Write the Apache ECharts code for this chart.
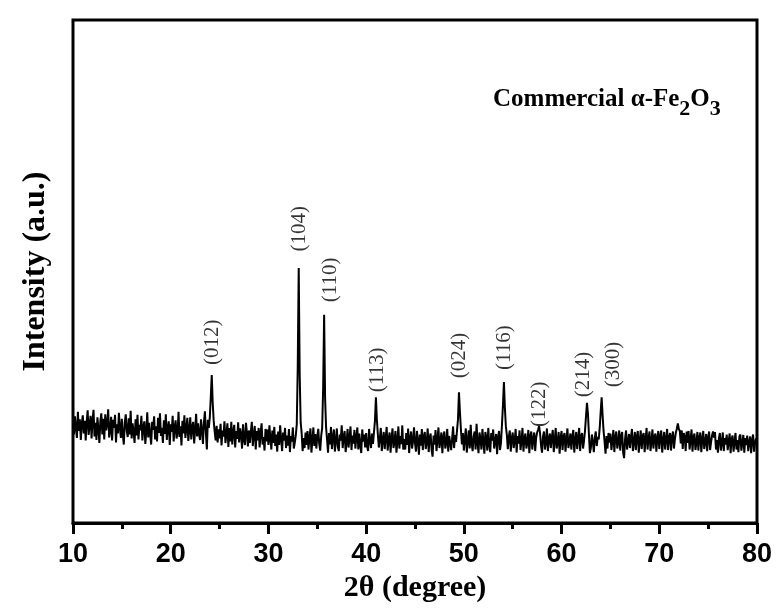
<!DOCTYPE html>
<html>
<head>
<meta charset="utf-8">
<script src="https://cdn.jsdelivr.net/npm/echarts@6/dist/echarts.min.js"></script>
<style>
  html, body { margin: 0; padding: 0; background: #ffffff; }
  #chart { width: 779px; height: 608px; }
</style>
</head>
<body>
<div id="chart"></div>
<script>
// XRD pattern of commercial alpha-Fe2O3, sampled every 0.1 degree (2-theta) from 10 to 80
const angleStart = 10;
const angleStep = 0.1;

// intensity (a.u.), one row per degree: d.0 ... d.9
const intensity = [
  20.8, 17.6, 21.2, 18.9, 16.9, 22.1, 18.3, 20.6, 16.5, 19.8,
  21.4, 17.8, 20.3, 16.4, 20.1, 22.4, 17.5, 19.6, 21.3, 16.8,
  20.4, 22.5, 17.2, 19.9, 16.5, 21.0, 18.7, 15.9, 20.3, 21.8,
  17.6, 20.7, 16.6, 21.6, 18.4, 19.7, 22.6, 17.0, 18.3, 21.1,
  16.4, 20.5, 18.9, 21.5, 16.0, 19.6, 17.8, 21.9, 18.8, 16.9,
  20.7, 17.5, 15.6, 20.0, 21.6, 18.3, 17.1, 20.8, 17.6, 22.3,
  16.8, 19.8, 18.1, 15.9, 20.6, 17.4, 21.5, 16.6, 19.5, 18.4,
  21.3, 16.4, 19.1, 20.2, 15.7, 18.1, 22.0, 17.0, 19.9, 17.6,
  15.6, 20.1, 18.5, 21.2, 16.6, 19.2, 16.2, 20.9, 17.9, 21.8,
  17.3, 18.9, 15.9, 20.4, 17.7, 21.6, 16.5, 19.0, 20.2, 15.5,
  19.6, 18.1, 21.3, 16.2, 18.9, 20.4, 16.8, 18.0, 22.1, 17.1,
  19.2, 15.4, 20.3, 17.8, 21.4, 16.9, 18.7, 20.9, 16.3, 18.5,
  21.0, 16.6, 19.1, 20.1, 15.8, 18.6, 21.7, 17.2, 19.8, 17.7,
  16.5, 20.6, 18.5, 15.7, 20.0, 22.2, 17.9, 14.6, 20.5, 18.9,
  21.0, 25.0, 29.4, 23.8, 20.3, 18.1, 16.4, 19.3, 16.0, 18.6,
  16.8, 19.7, 15.4, 18.4, 17.2, 20.2, 15.9, 17.6, 19.8, 15.1,
  18.9, 16.2, 20.1, 15.6, 18.1, 19.5, 15.0, 18.3, 16.7, 20.0,
  16.0, 18.8, 17.6, 14.8, 19.6, 16.6, 15.5, 19.9, 17.9, 15.2,
  18.4, 15.9, 18.1, 20.1, 15.3, 17.5, 19.3, 14.6, 18.3, 16.4,
  18.9, 15.0, 17.8, 19.8, 15.6, 17.1, 14.4, 18.7, 16.2, 18.6,
  15.5, 19.4, 16.8, 14.6, 18.4, 15.9, 19.1, 15.3, 17.6, 14.2,
  18.2, 15.5, 19.4, 16.7, 14.3, 18.0, 16.4, 18.9, 14.9, 17.4,
  15.4, 18.7, 14.1, 17.3, 16.2, 19.0, 14.8, 16.0, 17.4, 19.6,
  31.0, 50.7, 29.5, 20.0, 17.9, 14.3, 16.9, 14.9, 18.0, 15.5,
  18.3, 14.6, 16.9, 18.8, 14.0, 16.4, 19.0, 15.3, 17.7, 14.8,
  17.1, 18.7, 15.7, 14.4, 17.3, 18.9, 26.8, 41.4, 24.8, 19.0,
  16.6, 14.0, 17.9, 15.6, 19.1, 14.7, 17.0, 18.6, 14.2, 16.3,
  18.8, 15.2, 14.3, 17.6, 16.4, 19.4, 14.9, 17.1, 18.3, 14.1,
  16.0, 18.7, 15.0, 16.9, 19.2, 14.5, 17.4, 15.8, 18.5, 14.8,
  17.1, 19.0, 14.6, 17.8, 15.5, 13.9, 18.6, 16.2, 17.6, 15.0,
  17.9, 15.2, 14.3, 18.7, 16.4, 14.9, 17.8, 15.7, 18.0, 20.3,
  25.0, 20.5, 17.6, 15.0, 16.8, 18.9, 14.3, 16.5, 18.1, 14.7,
  16.9, 19.1, 14.4, 16.6, 18.0, 14.0, 16.9, 18.8, 14.9, 16.2,
  18.3, 14.0, 16.2, 19.2, 14.8, 17.3, 15.7, 19.4, 14.6, 16.7,
  14.6, 17.9, 15.5, 18.8, 13.9, 16.8, 18.2, 14.8, 16.3, 19.0,
  15.9, 14.2, 18.3, 16.4, 13.6, 17.6, 15.4, 18.7, 14.5, 17.2,
  18.1, 14.7, 16.1, 18.8, 14.1, 17.0, 17.8, 14.5, 13.2, 17.4,
  15.6, 18.5, 14.3, 16.6, 19.0, 14.9, 16.3, 18.0, 13.9, 17.1,
  18.2, 14.8, 15.9, 18.7, 14.2, 17.3, 17.6, 14.5, 16.8, 19.2,
  14.9, 17.5, 16.1, 18.4, 20.6, 26.0, 22.0, 18.6, 15.6, 17.9,
  14.4, 16.9, 18.8, 14.0, 16.3, 18.4, 14.8, 19.5, 15.8, 14.3,
  17.2, 18.2, 14.6, 19.7, 15.9, 13.9, 18.0, 16.7, 14.6, 18.7,
  16.1, 13.8, 18.1, 16.9, 14.4, 18.9, 15.6, 14.1, 17.9, 16.4,
  18.6, 14.8, 16.3, 17.7, 13.7, 17.0, 18.3, 14.5, 16.0, 19.5,
  23.4, 28.0, 22.8, 19.2, 17.5, 14.7, 17.1, 18.4, 14.2, 16.8,
  18.0, 14.9, 16.4, 18.7, 14.0, 17.3, 15.8, 18.4, 14.5, 16.2,
  18.9, 14.2, 16.8, 17.8, 14.8, 16.0, 18.5, 13.9, 17.2, 18.2,
  14.6, 16.7, 18.0, 14.3, 17.0, 18.0, 18.6, 19.3, 17.8, 15.4,
  14.0, 17.2, 18.2, 14.6, 16.1, 18.8, 14.3, 16.7, 17.8, 14.9,
  17.0, 18.5, 14.1, 16.3, 18.9, 14.8, 16.0, 18.1, 13.8, 16.9,
  18.3, 14.5, 17.2, 17.9, 14.2, 16.6, 18.8, 14.9, 16.1, 17.8,
  14.6, 17.1, 18.5, 14.0, 16.5, 18.1, 14.7, 16.8, 18.9, 14.3,
  17.3, 17.9, 14.8, 16.4, 18.4, 21.2, 23.9, 21.7, 17.6, 13.9,
  15.0, 17.6, 16.2, 14.1, 16.9, 18.2, 15.3, 17.1, 16.6, 18.8,
  22.0, 25.0, 21.4, 18.3, 16.2, 13.8, 17.3, 14.8, 17.9, 16.0,
  17.8, 14.5, 16.3, 18.5, 14.1, 17.1, 18.2, 14.8, 16.0, 18.4,
  14.4, 17.3, 18.1, 14.0, 12.9, 16.8, 18.4, 14.6, 16.2, 17.7,
  14.9, 17.0, 18.7, 14.3, 16.1, 18.1, 14.5, 17.1, 18.3, 14.0,
  16.3, 18.4, 14.7, 17.3, 17.9, 14.1, 16.6, 18.9, 14.6, 16.8,
  18.2, 14.3, 16.2, 18.6, 14.8, 17.1, 17.8, 14.2, 16.8, 18.3,
  14.7, 17.2, 18.4, 14.0, 16.4, 18.1, 14.6, 16.6, 18.7, 14.5,
  17.0, 17.9, 14.4, 17.1, 18.2, 14.8, 16.7, 18.0, 18.8, 19.8,
  18.7, 18.3, 15.8, 18.4, 14.7, 17.9, 17.2, 14.3, 18.2, 15.9,
  18.3, 14.6, 16.4, 18.6, 14.2, 17.2, 17.8, 14.5, 16.0, 18.1,
  14.4, 17.0, 18.0, 14.1, 16.6, 18.3, 14.7, 16.2, 17.7, 14.3,
  16.9, 18.2, 14.5, 16.1, 17.4, 18.2, 17.0, 18.1, 14.6, 16.5,
  14.0, 16.8, 17.9, 14.4, 15.9, 18.0, 14.3, 16.9, 15.6, 17.6,
  14.5, 16.2, 17.8, 13.9, 16.7, 17.4, 14.2, 16.1, 17.9, 14.6,
  16.5, 14.1, 17.2, 17.6, 14.4, 16.0, 17.5, 14.0, 16.9, 15.5,
  17.4, 14.3, 16.1, 17.2, 13.9, 16.5, 17.6, 14.2, 15.9, 16.8,
  15.6
];

// Miller indices of the indexed reflections and where each tag sits (2-theta, intensity at its base)
const peakLabels = ['(012)', '(104)', '(110)', '(113)', '(024)', '(116)', '(122)', '(214)', '(300)'];
const peakLabelAngles = [24.3, 33.2, 36.3, 41.2, 49.6, 54.2, 57.7, 62.2, 65.3];
const peakLabelHeights = [31.4, 54.0, 43.9, 26.0, 28.8, 30.4, 19.1, 25.0, 27.0];

// x axis range and tick spacing
const xMin = 10;
const xMax = 80;
const xInterval = 10;

const pattern = intensity.map((v, i) => [+(angleStart + i * angleStep).toFixed(1), v]);
const tags = peakLabels.map((name, i) => ({ name: name, value: [peakLabelAngles[i], peakLabelHeights[i]] }));

const chart = echarts.init(document.getElementById('chart'));
chart.setOption({
  animation: false,
  backgroundColor: '#ffffff',
  title: {
    text: '{t|Commercial \u03b1-Fe}{s|2}{t|O}{s|3}',
    left: 493,
    top: 80,
    padding: 0,
    textStyle: {
      rich: {
        t: { fontFamily: 'Liberation Serif', fontWeight: 'bold', fontSize: 25, color: '#000', lineHeight: 30 },
        s: { fontFamily: 'Liberation Serif', fontWeight: 'bold', fontSize: 22, color: '#000', padding: [18, 0, 0, 0] }
      }
    }
  },
  grid: {
    left: 73, right: 22, top: 20, bottom: 85,
    show: true, borderColor: '#000', borderWidth: 3, backgroundColor: 'transparent'
  },
  xAxis: {
    type: 'value',
    min: xMin, max: xMax, interval: xInterval,
    name: '2\u03b8 (degree)',
    nameLocation: 'middle',
    nameGap: 50,
    nameTextStyle: { fontFamily: 'Liberation Serif', fontWeight: 'bold', fontSize: 30, color: '#000' },
    axisLine: { show: true, lineStyle: { color: '#000', width: 3 } },
    axisTick: { show: true, length: 11, lineStyle: { color: '#000', width: 3 } },
    minorTick: { show: true, splitNumber: 2, length: 6, lineStyle: { color: '#000', width: 3 } },
    axisLabel: { margin: 18, fontFamily: 'Liberation Sans', fontWeight: 'bold', fontSize: 27, color: '#000' },
    splitLine: { show: false }
  },
  yAxis: {
    type: 'value',
    min: 0, max: 100,
    name: 'Intensity (a.u.)',
    nameLocation: 'middle',
    nameGap: 21,
    nameTextStyle: { fontFamily: 'Liberation Serif', fontWeight: 'bold', fontSize: 32, color: '#000' },
    axisLine: { show: false },
    axisTick: { show: false },
    axisLabel: { show: false },
    splitLine: { show: false }
  },
  series: [
    {
      type: 'line',
      data: pattern,
      showSymbol: false,
      symbol: 'none',
      sampling: false,
      lineStyle: { color: '#000', width: 2 },
      silent: true
    },
    {
      type: 'scatter',
      data: tags,
      symbolSize: 1,
      itemStyle: { color: 'rgba(0,0,0,0)' },
      silent: true,
      label: {
        show: true,
        formatter: '{b}',
        position: 'inside',
        rotate: 90,
        align: 'left',
        verticalAlign: 'middle',
        fontFamily: 'Liberation Serif',
        fontSize: 21,
        color: '#000'
      }
    }
  ]
});
</script>
</body>
</html>
